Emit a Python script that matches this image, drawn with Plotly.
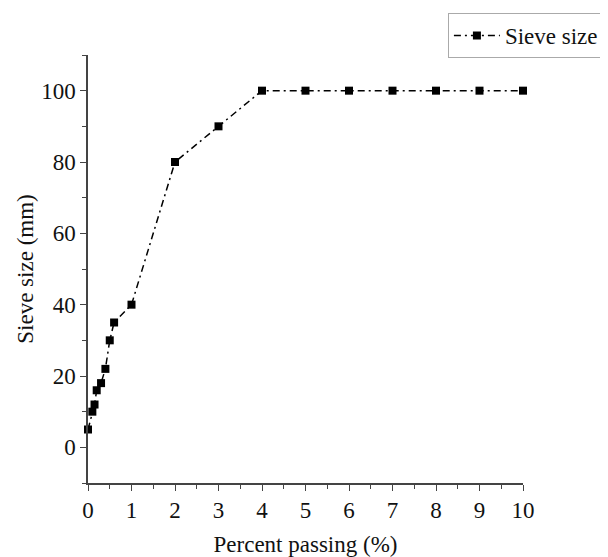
import plotly.graph_objects as go

percent_passing = [0, 0.1, 0.15, 0.2, 0.3, 0.4, 0.5, 0.6, 1, 2, 3, 4, 5, 6, 7, 8, 9, 10]
sieve_size = [5, 10, 12, 16, 18, 22, 30, 35, 40, 80, 90, 100, 100, 100, 100, 100, 100, 100]
x_ticks = [0, 1, 2, 3, 4, 5, 6, 7, 8, 9, 10]
y_ticks = [0, 20, 40, 60, 80, 100]

FONT = "Liberation Serif, Times New Roman, serif"
FS = 23

fig = go.Figure()
fig.add_trace(go.Scatter(
    x=percent_passing, y=sieve_size, mode="lines+markers", name="Sieve size",
    line=dict(color="black", width=1.5, dash="7px,4px,2px,4px"),
    marker=dict(symbol="square", size=8, color="black"),
    cliponaxis=False,
))

axis_common = dict(
    showgrid=False, zeroline=False, showline=True, linecolor="#444", linewidth=1.5,
    ticks="outside", ticklen=6, tickwidth=1.2, tickcolor="#444",
    tickfont=dict(family=FONT, size=FS, color="#111"),
    mirror=False, automargin=False,
)
fig.update_xaxes(
    range=[0, 10], tickvals=x_ticks,
    title=dict(text="Percent passing (%)", font=dict(family=FONT, size=FS, color="#111"), standoff=14),
    minor=dict(dtick=0.5, ticks="outside", ticklen=4, tickcolor="#444", tickwidth=1),
    **axis_common,
)
fig.update_yaxes(
    range=[-10, 110], tickvals=y_ticks,
    title=dict(text="Sieve size (mm)", font=dict(family=FONT, size=FS, color="#111"), standoff=1),
    minor=dict(tick0=0, dtick=10, ticks="outside", ticklen=4, tickcolor="#444", tickwidth=1),
    **axis_common,
)
fig.update_layout(
    width=600, height=549,
    margin=dict(l=80, r=85, t=47, b=74, autoexpand=False),
    paper_bgcolor="white", plot_bgcolor="white",
    showlegend=True,
    legend=dict(
        x=1.186, y=1.098, xanchor="right", yanchor="top",
        bordercolor="#aaa", borderwidth=1, bgcolor="white",
        font=dict(family=FONT, size=FS, color="#111"),
        itemwidth=46, tracegroupgap=0,
    ),
)
fig.write_html("out.html")
